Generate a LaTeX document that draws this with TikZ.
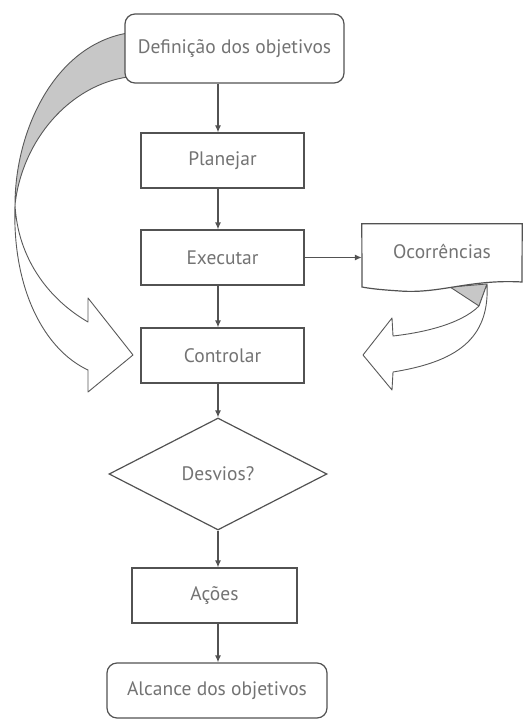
\documentclass[tikz,border=0pt]{standalone}
\usepackage{fontspec}
\setmainfont{PT Sans}
\usetikzlibrary{shapes.geometric,arrows.meta}
\begin{document}
\begin{tikzpicture}[x=1pt,y=-1pt,
  ln/.style={draw=black!68, line width=1.2pt},
  txt/.style={text=black!55, font=\fontsize{19.5}{21}\selectfont},
  box/.style={ln, txt, fill=white, rectangle, inner sep=0pt},
  rbox/.style={box, rounded corners=10pt},
  dia/.style={ln, txt, fill=white, diamond, inner sep=0pt},
  arr/.style={ln, -{Latex[length=7pt,width=6pt]}},
  ribbon/.style={draw=black!65, line width=0.9pt, line join=round}
]
\path[use as bounding box] (0,0) rectangle (524,727);
\coordinate (cx) at (218,0);

% left curved ribbon arrow
\path[ribbon, fill=black!22] (128,33) .. controls (55,45) and (15,130) .. (15,205)
  .. controls (22,140) and (70,85) .. (128,77) -- cycle;
\path[ribbon, fill=white] (15,205) .. controls (18,260) and (50,300) .. (88,322)
  -- (88,298) -- (133,355) -- (88,392) -- (88,370)
  .. controls (45,350) and (12,290) .. (15,205) -- cycle;

% right curved ribbon arrow
\path[ribbon, fill=black!22] (450,287) -- (487,284) -- (479,306) -- cycle;
\path[ribbon, fill=white] (479,306) .. controls (460,325) and (420,333) .. (393,336)
  -- (392,318) -- (363,355) -- (392,390) -- (393,372)
  .. controls (455,362) and (490,340) .. (487,284) -- cycle;

% nodes
\node[rbox, minimum width=219pt, minimum height=69pt] (def) at (234.5,48.5) {Definição dos objetivos};
\node[box, minimum width=163pt, minimum height=55pt] (pl) at (222.5,160.5) {Planejar};
\node[box, minimum width=163pt, minimum height=55pt] (ex) at (222.5,257.5) {Executar};
\node[box, minimum width=163pt, minimum height=55pt] (co) at (222.5,355.5) {Controlar};
\node[dia, minimum width=218pt, minimum height=112pt] (de) at (218,474) {Desvios?};
\node[box, minimum width=165pt, minimum height=55pt] (ac) at (214.5,595.5) {Ações};
\node[rbox, minimum width=220pt, minimum height=55pt] (al) at (217,690.5) {Alcance dos objetivos};

% document-shaped node
\node[txt, rectangle, inner sep=0pt, minimum width=160pt, minimum height=60pt] (oc) at (442,254) {};
\path[ln, fill=white] (oc.north west) -- (oc.north east) -- (522,282)
  .. controls (470,279) and (440,294) .. (400,291)
  .. controls (385,290) and (372,289) .. (362,287) -- cycle;
\node[txt] at (442,251) {Ocorrências};

% connectors
\draw[arr] (def.south -| cx) -- (pl.north -| cx);
\draw[arr] (pl.south -| cx) -- (ex.north -| cx);
\draw[arr] (ex.south -| cx) -- (co.north -| cx);
\draw[arr] (co.south -| cx) -- (de.north);
\draw[arr] (de.south) -- (ac.north -| cx);
\draw[arr] (ac.south -| cx) -- (al.north -| cx);
\draw[arr] (ex.east) -- (oc.west |- ex.east);
\end{tikzpicture}
\end{document}
